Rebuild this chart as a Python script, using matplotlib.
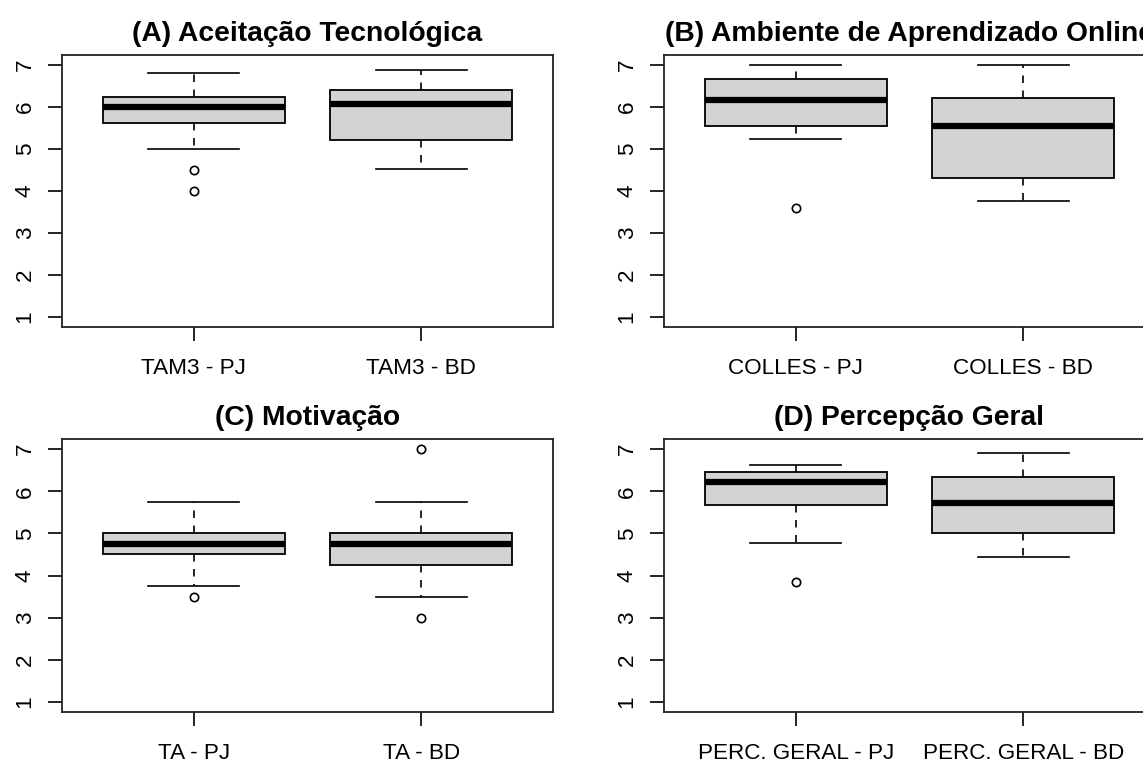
import matplotlib
matplotlib.use("Agg")
import matplotlib.pyplot as plt

plt.rcParams['font.family'] = ['Liberation Sans', 'DejaVu Sans']

# ---- data ----
titles = ["(A) Aceitação Tecnológica", "(B) Ambiente de Aprendizado Online",
          "(C) Motivação", "(D) Percepção Geral"]

labels_A = ["TAM3 - PJ", "TAM3 - BD"]
q1_A = [5.63, 5.21]
med_A = [6.00, 6.08]
q3_A = [6.25, 6.41]
lo_A = [5.00, 4.52]
hi_A = [6.80, 6.875]
out_A = [[4.5, 4.0], []]

labels_B = ["COLLES - PJ", "COLLES - BD"]
q1_B = [5.54, 4.31]
med_B = [6.17, 5.55]
q3_B = [6.66, 6.21]
lo_B = [5.25, 3.76]
hi_B = [7.00, 7.00]
out_B = [[3.6], []]

labels_C = ["TA - PJ", "TA - BD"]
q1_C = [4.50, 4.25]
med_C = [4.75, 4.75]
q3_C = [5.00, 5.00]
lo_C = [3.75, 3.50]
hi_C = [5.75, 5.75]
out_C = [[3.5], [7.0, 3.0]]

labels_D = ["PERC. GERAL - PJ", "PERC. GERAL - BD"]
q1_D = [5.67, 5.00]
med_D = [6.22, 5.72]
q3_D = [6.45, 6.33]
lo_D = [4.77, 4.44]
hi_D = [6.63, 6.91]
out_D = [[3.85], []]

yticks = [1, 2, 3, 4, 5, 6, 7]

panels = [
    (labels_A, q1_A, med_A, q3_A, lo_A, hi_A, out_A),
    (labels_B, q1_B, med_B, q3_B, lo_B, hi_B, out_B),
    (labels_C, q1_C, med_C, q3_C, lo_C, hi_C, out_C),
    (labels_D, q1_D, med_D, q3_D, lo_D, hi_D, out_D),
]

W, H = 1143, 763
fig = plt.figure(figsize=(W / 100, H / 100), dpi=100)
fig.patch.set_facecolor("white")

# pixel rectangles (left, top, right, bottom)
rects = [(62, 55, 553, 327), (664, 55, 1155, 327),
         (62, 439, 553, 712), (664, 439, 1155, 712)]

for (labels, q1, med, q3, lo, hi, out), title, (l, t, r, b) in zip(panels, titles, rects):
    ax = fig.add_axes([l / W, 1 - b / H, (r - l) / W, (b - t) / H])
    stats = []
    for i in range(len(labels)):
        stats.append(dict(label=labels[i], q1=q1[i], med=med[i], q3=q3[i],
                          whislo=lo[i], whishi=hi[i], fliers=out[i]))
    ax.bxp(stats, positions=[1, 2], widths=0.8, capwidths=0.4,
           patch_artist=True, showfliers=True,
           boxprops=dict(facecolor="#d3d3d3", edgecolor="black", linewidth=1.3),
           medianprops=dict(color="black", linewidth=4.5, solid_capstyle="butt"),
           whiskerprops=dict(color="black", linewidth=1.2, linestyle=(0, (4.5, 4.5))),
           capprops=dict(color="black", linewidth=1.2),
           flierprops=dict(marker="o", markerfacecolor="none", markeredgecolor="black",
                           markersize=6, markeredgewidth=1.2))
    ax.set_xlim(0.42, 2.58)
    ax.set_ylim(0.76, 7.24)
    ax.set_yticks(yticks)
    ax.set_yticklabels([str(v) for v in yticks], rotation=90, va="center")
    ax.set_xticks([1, 2])
    ax.set_xticklabels(labels)
    ax.tick_params(axis="both", length=10, width=1.2, labelsize=16.2, colors="black")
    ax.tick_params(axis="x", pad=12)
    ax.tick_params(axis="y", pad=9)
    for s in ax.spines.values():
        s.set_linewidth(1.3)
        s.set_color("#222222")
    ax.set_title(title, fontsize=20.3, fontweight="bold", pad=10)

fig.savefig("out.png", dpi=100, facecolor="white")
